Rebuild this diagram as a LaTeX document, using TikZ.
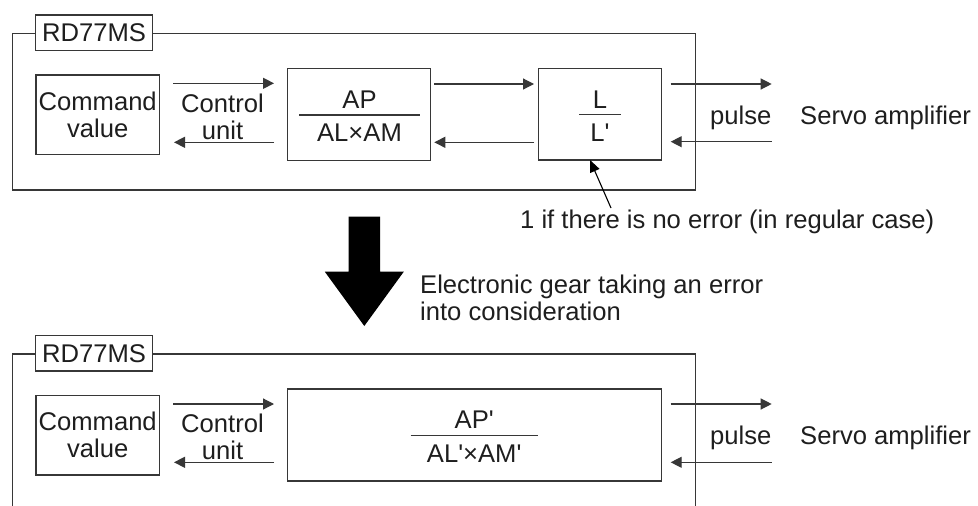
\documentclass[tikz,border=0pt]{standalone}
\usepackage{fontspec}
\setmainfont{Liberation Sans}
\usetikzlibrary{arrows.meta}
\definecolor{lc}{RGB}{55,55,55}
\definecolor{tc}{RGB}{30,30,30}
\newcommand{\fs}{\fontsize{25.6}{26.8}\selectfont}
\newcommand{\q}{\textquotesingle}
\tikzset{
  frame/.style={draw=lc,line width=1.4pt},
  boxx/.style={draw=lc,line width=1.4pt,fill=white,inner sep=0pt,align=center,text=tc,font=\fs},
  txt/.style={inner sep=0pt,align=center,text=tc,font=\fs},
  ltxt/.style={inner sep=0pt,align=left,text=tc,font=\fs},
  arr/.style={draw=lc,line width=1.2pt,-{Triangle[length=11pt,width=11pt]}},
  thinarr/.style={draw=black,line width=1.1pt,-{Triangle[length=12pt,width=10pt]}},
  frac/.style={draw=lc,line width=1.2pt}
}
\begin{document}
\begin{tikzpicture}[x=1pt,y=-1pt]
\useasboundingbox (0,0) rectangle (978,506);
\fill[white] (0,0) rectangle (978,506);

% ---------- upper block ----------
\draw[frame] (12.5,33.5) rectangle (695.7,190);
\node[boxx,minimum width=116.6pt,minimum height=35.7pt] (lab1) at (94,32.9) {RD77MS};
\node[boxx,minimum width=123.3pt,minimum height=79.3pt] (cmd1) at (97.7,114.7) {Command\\value};
\node[txt] (ctl1) at (222.5,116.5) {Control\\unit};
\node[boxx,minimum width=143pt,minimum height=92.4pt] (ap1) at (359.2,114.5) {};
\node[txt,anchor=base] (apn1) at (359.5,108.3) {AP};
\node[txt,anchor=base] (apd1) at (359.5,141.7) {AL×AM};
\draw[frac] (299,115) -- (420,115);
\node[boxx,minimum width=123.4pt,minimum height=91.7pt] (l1) at (600,114.2) {};
\node[txt,anchor=base] (ln1) at (600,108) {L};
\node[txt,anchor=base] (ld1) at (600,141.7) {L\q};
\draw[frac] (579,114.3) -- (620.7,114.3);
\node[txt,anchor=base west] (pul1) at (710,124) {pulse};
\node[txt,anchor=base west] (srv1) at (800,124) {Servo amplifier};

\coordinate (a1s) at (173,83.3);   \coordinate (a1e) at (274,83.3);
\coordinate (b1s) at (274,142.3);  \coordinate (b1e) at (174,142.3);
\coordinate (a2s) at (434.3,84);   \coordinate (a2e) at (534,84);
\coordinate (b2s) at (534,142.3);  \coordinate (b2e) at (434.3,142.3);
\coordinate (a3s) at (670.7,84);   \coordinate (a3e) at (771.7,84);
\coordinate (b3s) at (771.7,141.7);\coordinate (b3e) at (670.7,141.7);
\draw[arr] (a1s) -- (a1e);
\draw[arr] (b1s) -- (b1e);
\draw[arr] (a2s) -- (a2e);
\draw[arr] (b2s) -- (b2e);
\draw[arr] (a3s) -- (a3e);
\draw[arr] (b3s) -- (b3e);

% annotation
\node[txt,anchor=base west] (note) at (520,228.5) {1 if there is no error (in regular case)};
\coordinate (nts) at (611,208);
\coordinate (nte) at (590,160);
\draw[thinarr] (nts) -- (nte);

% big arrow
\fill[black] (348.5,216.7) -- (380.1,216.7) -- (380.1,271.7) -- (403.8,271.7)
  -- (364.3,326) -- (324.8,271.7) -- (348.5,271.7) -- cycle;
\node[ltxt,anchor=north west] (eg) at (420,274.5) {Electronic gear taking an error\\into consideration};

% ---------- lower block ----------
\draw[frame] (12.5,506) -- (12.5,354) -- (695.7,354) -- (695.7,506);
\node[boxx,minimum width=116.6pt,minimum height=35.7pt] (lab2) at (94,353.2) {RD77MS};
\node[boxx,minimum width=123.3pt,minimum height=79.3pt] (cmd2) at (97.7,435.2) {Command\\value};
\node[txt] (ctl2) at (222.5,437) {Control\\unit};
\node[boxx,minimum width=374pt,minimum height=92pt] (ap2) at (474.7,435) {};
\node[txt,anchor=base] (apn2) at (474.2,428.8) {AP\q};
\node[txt,anchor=base] (apd2) at (474.2,462.2) {AL\q×AM\q};
\draw[frac] (410.7,435.3) -- (537.7,435.3);
\node[txt,anchor=base west] (pul2) at (710,444.5) {pulse};
\node[txt,anchor=base west] (srv2) at (800,444.5) {Servo amplifier};

\coordinate (c1s) at (173,404);    \coordinate (c1e) at (274,404);
\coordinate (d1s) at (274,462.3);  \coordinate (d1e) at (174,462.3);
\coordinate (c3s) at (670.7,404);  \coordinate (c3e) at (771.7,404);
\coordinate (d3s) at (771.7,462.3);\coordinate (d3e) at (670.7,462.3);
\draw[arr] (c1s) -- (c1e);
\draw[arr] (d1s) -- (d1e);
\draw[arr] (c3s) -- (c3e);
\draw[arr] (d3s) -- (d3e);
\end{tikzpicture}
\end{document}
